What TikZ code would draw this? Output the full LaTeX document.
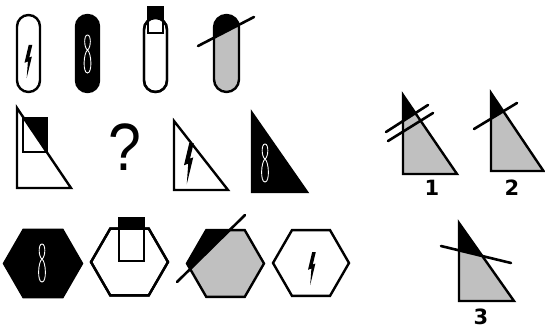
\documentclass[tikz,border=0pt]{standalone}
\usepackage{fontspec}
\setmainfont{DejaVu Sans}
\newfontfamily\lib{Liberation Sans}
\definecolor{lgray}{HTML}{C0C0C0}
\newcommand\hexpath[3]{({#1-#3},#2) -- ({#1-#3/2},{#2-0.866*#3}) -- ({#1+#3/2},{#2-0.866*#3}) -- ({#1+#3},#2) -- ({#1+#3/2},{#2+0.866*#3}) -- ({#1-#3/2},{#2+0.866*#3}) -- cycle}
\tikzset{
  outl/.style={line width=2.4pt, line join=miter},
  cutline/.style={line width=2.6pt, line cap=round},
  lbl/.style={font=\fontsize{21}{21}\selectfont\bfseries, inner sep=0pt},
  pics/bolt/.style={code={
    \fill[line join=miter] (0.2,-16) -- (3.8,-16) -- (0.8,-3.5) -- (3.4,-4.5) -- (-1.8,17) -- (-0.6,0.5) -- (-4,1.8) -- cycle;
  }},
  pics/eight/.style={code={
    \draw[white, line width=0.9pt] (0,-19) .. controls (-4,-19) and (-3.5,-6) .. (0,-4) .. controls (4,-1) and (5,19) .. (0,19) .. controls (-5,19) and (-4,-1) .. (0,-4) .. controls (3.5,-6) and (4,-19) .. (0,-19);
  }}
}
\begin{document}
\begin{tikzpicture}[x=1pt,y=-1pt]
\useasboundingbox (0,0) rectangle (545,329);
% ---------- row 1
\draw[outl, rounded corners=11.5pt] (17,15) rectangle (40,92);
\pic at (28.5,61) {bolt};
\draw[outl, fill=black, rounded corners=11.5pt] (76,15) rectangle (99,92);
\pic at (87.5,54) {eight};
% stadium with square
\draw[outl, fill=white, rounded corners=11.5pt] (144,18) rectangle (167,92);
\fill (148,7) rectangle (163,33);
\begin{scope}
  \clip[rounded corners=11.5pt] (144,18) rectangle (167,92);
  \fill[white] (148,7) rectangle (163,33);
\end{scope}
\draw[line width=2pt] (148,7) rectangle (163,33);
\draw[outl, rounded corners=11.5pt] (144,18) rectangle (167,92);
% stadium gray cut
\begin{scope}
  \clip[rounded corners=12.5pt] (214,15) rectangle (239,92);
  \fill[lgray] (214,15) rectangle (239,92);
  \fill (198,46) -- (254,17) -- (254,0) -- (198,0) -- cycle;
\end{scope}
\draw[outl, rounded corners=12.5pt] (214,15) rectangle (239,92);
\draw[cutline] (198,46) -- (254,17);
% ---------- row 2
\fill (23.7,118) -- (47,118) -- (47,152) -- cycle;
\draw[line width=2pt] (23,118) rectangle (47,152);
\draw[outl] (17,108) -- (17,188) -- (71,188) -- cycle;
\node[inner sep=0pt, xscale=0.88, font=\lib\fontsize{67}{67}\selectfont] (q) at (124.5,147) {?};
\draw[outl] (174,121) -- (174,190) -- (228,190) -- cycle;
\pic[scale=1.25] at (189,163) {bolt};
\draw[outl, fill=black] (252,113) -- (252,192) -- (307,192) -- cycle;
\pic at (265,163) {eight};
% ---------- row 3
\draw[outl, fill=black] \hexpath{43}{263.5}{39};
\pic at (42,263) {eight};
\draw[outl, fill=white] \hexpath{129.5}{262}{38.5};
\fill (119,218) rectangle (144,261);
\begin{scope}
  \clip \hexpath{129.5}{262}{38.5};
  \fill[white] (119,218) rectangle (144,261);
\end{scope}
\draw[line width=2pt] (119,218) rectangle (144,261);
\draw[outl] \hexpath{129.5}{262}{38.5};
\begin{scope}
  \clip \hexpath{225.5}{263.5}{38.5};
  \fill[lgray] (180,220) rectangle (270,305);
  \fill (177,282) -- (245,215) -- (180,215) -- cycle;
\end{scope}
\draw[outl] \hexpath{225.5}{263.5}{38.5};
\draw[cutline] (177,282) -- (245,215);
\draw[outl] \hexpath{311}{263}{38};
\pic at (312,268) {bolt};
% ---------- answers
\begin{scope}
  \clip (403,95) -- (403,174) -- (457,174) -- cycle;
  \fill[lgray] (400,90) rectangle (460,180);
  \fill (386,132) -- (428,105) -- (428,90) -- (386,90) -- cycle;
\end{scope}
\draw[outl] (403,95) -- (403,174) -- (457,174) -- cycle;
\draw[cutline] (386,132) -- (428,105);
\draw[cutline] (388,141) -- (433,113);
\node[lbl] (n1) at (432,188) {1};
\begin{scope}
  \clip (491,93) -- (491,171) -- (544,171) -- cycle;
  \fill[lgray] (488,88) rectangle (545,175);
  \fill (474,129) -- (517,103) -- (517,88) -- (474,88) -- cycle;
\end{scope}
\draw[outl] (491,93) -- (491,171) -- (543.5,171) -- cycle;
\draw[cutline] (474,129) -- (517,103);
\node[lbl] (n2) at (512,188) {2};
\begin{scope}
  \clip (459,223) -- (459,301) -- (514,301) -- cycle;
  \fill[lgray] (455,218) rectangle (518,305);
  \fill (441,246) -- (511,263) -- (511,218) -- (441,218) -- cycle;
\end{scope}
\draw[outl] (459,223) -- (459,301) -- (514,301) -- cycle;
\draw[cutline] (441,246) -- (511,263);
\node[lbl] (n3) at (481,316.5) {3};
\end{tikzpicture}
\end{document}
